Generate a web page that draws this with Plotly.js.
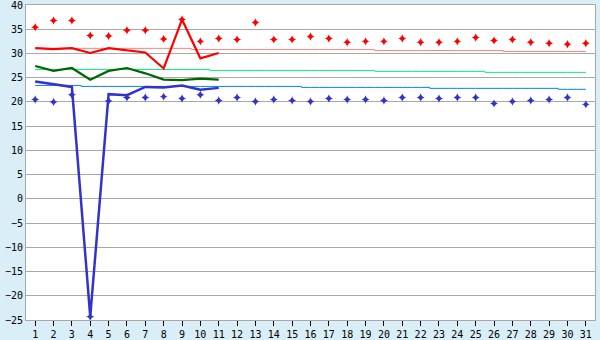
<!DOCTYPE html>
<html><head><meta charset="utf-8">
<script src="https://cdn.plot.ly/plotly-3.0.1.min.js"></script>
<style>html,body{margin:0;padding:0;background:#d9eef6;}#chart{width:600px;height:340px;}</style>
</head><body><div id="chart"></div>
<script>
const days = Array.from({length: 31}, (_, i) => i + 1);
const maxPoints = [35.4, 36.8, 36.8, 33.7, 33.6, 34.8, 34.8, 33.0, 37.0, 32.5, 33.1,
  32.9, 36.4, 32.9, 32.9, 33.5, 33.1, 32.3, 32.5, 32.5, 33.1, 32.3, 32.3, 32.5,
  33.3, 32.7, 32.9, 32.3, 32.1, 31.9, 32.1];
const minPoints = [20.5, 20.0, 21.5, -24.3, 20.2, 20.9, 20.9, 21.1, 20.7, 21.5, 20.3,
  20.9, 20.1, 20.5, 20.3, 20.1, 20.7, 20.5, 20.5, 20.3, 20.9, 20.9, 20.7, 20.9,
  20.9, 19.7, 20.1, 20.3, 20.5, 20.9, 19.5];
const lineDays = [1, 2, 3, 4, 5, 6, 7, 8, 9, 10, 11];
const maxLine = [31.1, 30.9, 31.1, 30.1, 31.1, 30.6, 30.2, 26.9, 37.0, 29.0, 30.1];
const meanLine = [27.4, 26.4, 27.0, 24.6, 26.4, 27.0, 25.9, 24.6, 24.5, 24.8, 24.6];
const minLine = [24.2, 23.7, 23.1, -24.3, 21.6, 21.4, 23.1, 23.0, 23.4, 22.5, 22.9];
const normalMax = [31.05, 31.05, 31.05, 31.05, 31.05, 31.05, 31.05, 31.05, 31.05,
  30.8, 30.8, 30.8, 30.8, 30.8, 30.8, 30.8, 30.8, 30.8, 30.8,
  30.6, 30.6, 30.6, 30.6, 30.6, 30.6, 30.6, 30.4, 30.4, 30.4, 30.4, 30.4];
const normalMean = [26.7, 26.7, 26.7, 26.7, 26.7, 26.7, 26.7, 26.7, 26.7, 26.7,
  26.5, 26.5, 26.5, 26.5, 26.5, 26.5, 26.5, 26.5, 26.5,
  26.3, 26.3, 26.3, 26.3, 26.3, 26.3, 26.1, 26.1, 26.1, 26.1, 26.1, 26.1];
const normalMin = [23.4, 23.4, 23.4, 23.2, 23.2, 23.2, 23.2, 23.2, 23.2, 23.2, 23.2,
  23.2, 23.2, 23.2, 23.2, 23.0, 23.0, 23.0, 23.0, 23.0, 23.0, 23.0,
  22.8, 22.8, 22.8, 22.8, 22.8, 22.8, 22.8, 22.6, 22.6];
const yTicks = [-25, -20, -15, -10, -5, 0, 5, 10, 15, 20, 25, 30, 35, 40];

const thin = (y, c) => ({x: days, y: y, mode: 'lines', line: {color: c, width: 1, shape: 'hvh'}, hoverinfo: 'skip'});
const data = [
  thin(normalMax, '#ff8080'),
  thin(normalMean, '#00f080'),
  thin(normalMin, '#0080ff'),
  {x: lineDays, y: maxLine, mode: 'lines', line: {color: '#ff0000', width: 2.2}},
  {x: lineDays, y: meanLine, mode: 'lines', line: {color: '#006600', width: 2.2}},
  {x: lineDays, y: minLine, mode: 'lines', line: {color: '#3333cc', width: 2.5}},
  {x: days, y: maxPoints, mode: 'markers', marker: {symbol: 'star-diamond', size: 6, color: '#ff0000'}},
  {x: days, y: minPoints, mode: 'markers', marker: {symbol: 'star-diamond', size: 6, color: '#3333cc'}}
];
const fnt = {family: 'DejaVu Sans Mono', size: 10, color: '#000'};
const layout = {
  width: 600, height: 340,
  paper_bgcolor: '#d9eef6', plot_bgcolor: '#ffffff',
  margin: {l: 26, r: 5, t: 5, b: 20},
  showlegend: false,
  xaxis: {range: [0.5, 31.5], tickvals: days, ticktext: days.map(String), showgrid: false,
    zeroline: false, showline: true, linecolor: '#a8a8a8', linewidth: 1, mirror: true,
    ticks: 'outside', ticklen: 5, tickcolor: '#000', tickfont: fnt},
  yaxis: {range: [-25, 40.0001], tickvals: yTicks, showgrid: true, gridcolor: '#a8a8a8', gridwidth: 1,
    zeroline: false, showline: true, linecolor: '#a8a8a8', linewidth: 1, mirror: true,
    ticks: '', tickfont: fnt, ticklabeloverflow: 'allow'}
};
Plotly.newPlot('chart', data, layout, {displayModeBar: false, staticPlot: true});
</script></body></html>
